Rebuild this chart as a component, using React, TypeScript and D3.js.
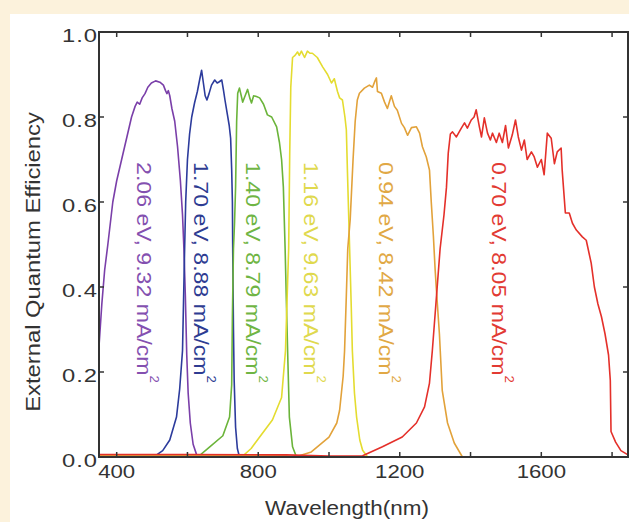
import React from 'react'
import * as d3 from 'd3'

// wavelength (nm), external quantum efficiency
const cell206: [number, number][] = [
  [350, 0.26], [358, 0.36], [366, 0.44], [375, 0.5], [389, 0.6], [400, 0.65], [414, 0.7],
  [428, 0.75], [442, 0.8], [452, 0.825], [458, 0.835], [465, 0.83], [472, 0.845], [480, 0.855],
  [488, 0.87], [498, 0.88], [510, 0.885], [522, 0.882], [532, 0.875], [538, 0.862], [542, 0.855],
  [546, 0.862], [550, 0.85], [556, 0.82], [564, 0.79], [572, 0.73], [580, 0.65], [586, 0.57],
  [590, 0.49], [594, 0.38], [598, 0.24], [602, 0.15], [608, 0.08], [616, 0.03], [626, 0.005],
  [700, 0.0],
]

const cell170: [number, number][] = [
  [350, 0.0], [505, 0.0], [513, 0.005], [530, 0.015], [550, 0.04], [569, 0.094], [578, 0.16],
  [586, 0.25], [589, 0.37], [592, 0.49], [595, 0.6], [600, 0.7], [606, 0.76], [612, 0.8],
  [620, 0.833], [628, 0.86], [635, 0.89], [640, 0.91], [645, 0.88], [650, 0.85], [655, 0.84],
  [661, 0.855], [668, 0.875], [677, 0.887], [684, 0.88], [690, 0.883], [697, 0.887], [702, 0.862],
  [706, 0.84], [713, 0.805], [718, 0.78], [722, 0.75], [725, 0.675], [727, 0.6], [728, 0.48],
  [730, 0.3], [732, 0.18], [736, 0.07], [741, 0.02], [747, 0.0], [800, 0.0],
]

const cell140: [number, number][] = [
  [560, 0.0], [629, 0.0], [663, 0.024], [700, 0.05], [719, 0.094], [725, 0.17], [727, 0.33],
  [730, 0.49], [733, 0.55], [736, 0.635], [739, 0.79], [742, 0.856], [747, 0.868], [752, 0.85],
  [756, 0.835], [763, 0.85], [770, 0.865], [776, 0.845], [781, 0.833], [787, 0.85], [795, 0.848],
  [804, 0.845], [815, 0.83], [826, 0.805], [838, 0.8], [852, 0.777], [860, 0.74], [866, 0.7],
  [871, 0.635], [876, 0.49], [880, 0.35], [884, 0.22], [888, 0.094], [897, 0.024], [908, 0.0],
  [960, 0.0],
]

const cell116: [number, number][] = [
  [700, 0.0], [753, 0.0], [780, 0.02], [804, 0.047], [840, 0.087], [866, 0.14], [877, 0.25],
  [883, 0.41], [886, 0.49], [889, 0.715], [892, 0.87], [897, 0.94], [904, 0.945], [911, 0.953],
  [916, 0.945], [922, 0.955], [931, 0.94], [939, 0.955], [946, 0.95], [953, 0.95], [967, 0.94],
  [982, 0.918], [996, 0.9], [1007, 0.88], [1015, 0.89], [1024, 0.86], [1030, 0.845], [1038, 0.84],
  [1045, 0.8], [1049, 0.77], [1052, 0.675], [1056, 0.557], [1060, 0.44], [1063, 0.35], [1066, 0.25],
  [1072, 0.15], [1078, 0.094], [1087, 0.04], [1095, 0.016], [1109, 0.0], [1160, 0.0],
]

const cell094: [number, number][] = [
  [350, 0.004], [880, 0.003], [905, 0.0], [950, 0.012], [1000, 0.047], [1022, 0.08], [1030, 0.11],
  [1040, 0.19], [1044, 0.25], [1049, 0.38], [1053, 0.49], [1060, 0.56], [1068, 0.7], [1074, 0.79],
  [1080, 0.84], [1086, 0.856], [1100, 0.868], [1114, 0.875], [1123, 0.87], [1130, 0.885],
  [1134, 0.892], [1137, 0.86], [1148, 0.856], [1157, 0.835], [1165, 0.82], [1176, 0.85],
  [1185, 0.825], [1193, 0.816], [1205, 0.785], [1213, 0.775], [1222, 0.757], [1233, 0.775],
  [1247, 0.777], [1256, 0.762], [1264, 0.73], [1275, 0.706], [1284, 0.675], [1289, 0.6],
  [1295, 0.52], [1300, 0.44], [1303, 0.4], [1312, 0.29], [1320, 0.157], [1335, 0.08],
  [1354, 0.033], [1377, 0.0], [1450, 0.0],
]

const cell070: [number, number][] = [
  [350, 0.006], [600, 0.006], [880, 0.005], [1000, 0.002], [1095, 0.003], [1151, 0.024],
  [1207, 0.047], [1247, 0.08], [1270, 0.118], [1284, 0.174], [1292, 0.25], [1303, 0.37],
  [1314, 0.49], [1325, 0.57], [1332, 0.635], [1337, 0.715], [1343, 0.76], [1349, 0.765],
  [1360, 0.753], [1374, 0.774], [1383, 0.786], [1391, 0.774], [1402, 0.793], [1410, 0.8],
  [1416, 0.817], [1425, 0.777], [1431, 0.753], [1439, 0.798], [1448, 0.762], [1456, 0.746],
  [1462, 0.762], [1473, 0.74], [1481, 0.762], [1490, 0.74], [1499, 0.78], [1507, 0.727],
  [1518, 0.758], [1527, 0.793], [1535, 0.753], [1544, 0.722], [1552, 0.746], [1560, 0.7],
  [1572, 0.718], [1580, 0.706], [1589, 0.682], [1600, 0.7], [1608, 0.664], [1617, 0.762],
  [1628, 0.75], [1637, 0.69], [1645, 0.718], [1656, 0.727], [1659, 0.675], [1668, 0.574],
  [1679, 0.574], [1688, 0.55], [1699, 0.534], [1716, 0.518], [1727, 0.51], [1733, 0.487],
  [1741, 0.456], [1750, 0.4], [1760, 0.36], [1770, 0.33], [1780, 0.29], [1790, 0.24],
  [1795, 0.18], [1797, 0.06], [1810, 0.035], [1825, 0.015], [1845, 0.005],
]

const series = [cell206, cell170, cell140, cell116, cell094, cell070]
const bandGaps = ['2.06', '1.70', '1.40', '1.16', '0.94', '0.70']
const currents = ['9.32', '8.88', '8.79', '9.63', '8.42', '8.05']
const labelWavelengths = [457, 618, 765, 929, 1141, 1460]
const lineColors = ['#7a3fa9', '#2c3b9c', '#6bb43a', '#e4dc30', '#e2a23a', '#e4302a']
const labelColors = ['#8450b0', '#2e3c92', '#6fb544', '#e0d94e', '#e1a845', '#e23a33']

const xTickLabels = [400, 800, 1200, 1600]
const xMinorTicks = [400, 600, 800, 1000, 1200, 1400, 1600, 1800]
const yTicks = [0, 0.2, 0.4, 0.6, 0.8, 1.0]

export default function App() {
  const width = 629
  const height = 522
  const margin = { top: 32, right: 1, bottom: 65, left: 99 }

  const x = d3.scaleLinear()
    .domain([350, 1845])
    .range([margin.left, width - margin.right])
  const y = d3.scaleLinear()
    .domain([0, 1])
    .range([height - margin.bottom, margin.top])

  const line = d3.line<[number, number]>()
    .x(d => x(d[0]))
    .y(d => y(d[1]))

  const [x0, x1] = x.range()
  const [y0, y1] = y.range()
  const font = 'Arial, "Liberation Sans", Helvetica, sans-serif'
  const axisColor = '#333'
  const tick = 5

  return (
    <div style={{ position: 'absolute', left: 0, top: 0 }}>
      <svg width={width} height={height} style={{ display: 'block' }} fontFamily={font}>
        <rect width={width} height={height} fill="#fcf2dc" />
        <rect x={10} y={14} width={width - 10} height={height - 14} fill="#fff" />

        <defs>
          <clipPath id="plot">
            <rect x={x0} y={y1} width={x1 - x0} height={y0 - y1} />
          </clipPath>
        </defs>

        <g clipPath="url(#plot)">
          {series.map((s, i) => (
            <path key={i} d={line(s) || ''} fill="none" stroke={lineColors[i]}
              strokeWidth={1.6} strokeLinejoin="round" />
          ))}
        </g>

        {/* frame */}
        <rect x={x0} y={y1} width={x1 - x0} height={y0 - y1} fill="none"
          stroke={axisColor} strokeWidth={2} />

        {xMinorTicks.map(t => (
          <g key={t}>
            <line x1={x(t)} x2={x(t)} y1={y0} y2={y0 - tick} stroke={axisColor} strokeWidth={1.5} />
            <line x1={x(t)} x2={x(t)} y1={y1} y2={y1 + tick} stroke={axisColor} strokeWidth={1.5} />
          </g>
        ))}
        {yTicks.map(t => (
          <g key={t}>
            <line x1={x0} x2={x0 + tick} y1={y(t)} y2={y(t)} stroke={axisColor} strokeWidth={1.5} />
            <line x1={x1} x2={x1 - tick} y1={y(t)} y2={y(t)} stroke={axisColor} strokeWidth={1.5} />
          </g>
        ))}

        {xTickLabels.map(t => (
          <text key={t} transform={`translate(${x(t)},${y0 + 21}) scale(1.2,1)`}
            textAnchor="middle" fontSize={18.5} fill="#333">{t}</text>
        ))}
        {yTicks.map(t => (
          <text key={t} transform={`translate(${x0 - 1},${y(t) + 10}) scale(1.25,1)`}
            textAnchor="end" fontSize={19} letterSpacing={0.8} fill="#333">{t.toFixed(1)}</text>
        ))}

        <text transform={`translate(347,515) scale(1.07,1)`} textAnchor="middle"
          fontSize={21} fill="#333">Wavelength(nm)</text>
        <text transform={`translate(39.5,262) rotate(-90) scale(1.19,1)`} textAnchor="middle"
          fontSize={20} fill="#333">External Quantum Efficiency</text>

        {bandGaps.map((g, i) => (
          <text key={g} transform={`translate(${x(labelWavelengths[i])},${y(0.694)}) rotate(90) scale(1.1,1)`}
            fontSize={21} fill={labelColors[i]}>
            {`${g} eV, ${currents[i]} mA/cm`}
            <tspan dy={-13} fontSize={12}>2</tspan>
          </text>
        ))}
      </svg>
    </div>
  )
}
